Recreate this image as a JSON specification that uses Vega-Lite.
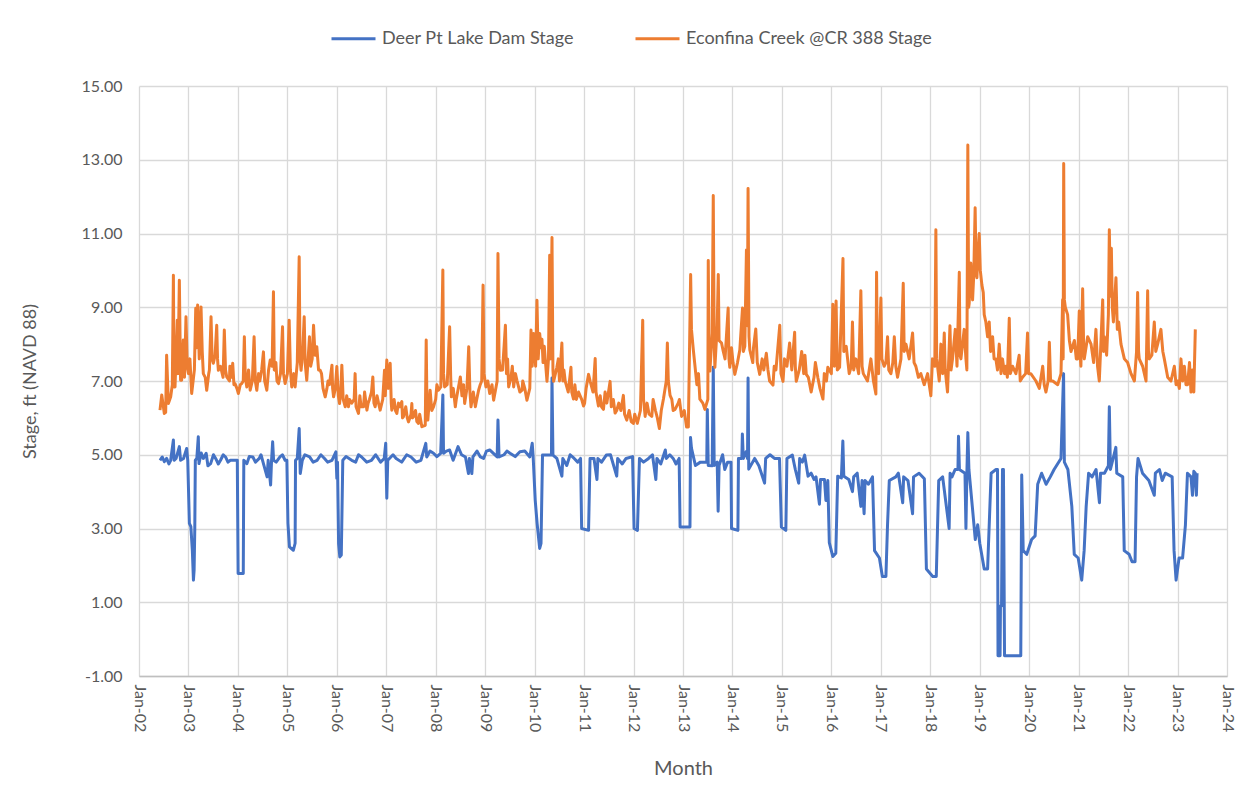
{
"$schema": "https://vega.github.io/schema/vega-lite/v6.json",
"width": 1088,
"height": 590,
"autosize": {"type": "none"},
"padding": {"left": 139, "top": 86, "right": 22, "bottom": 127},
"background": "white",
"config": {
 "font": "Lato",
 "view": {"stroke": null},
 "axis": {"labelFont": "Lato", "titleFont": "Lato", "labelColor": "#595959", "titleColor": "#595959", "labelFontSize": 16, "titleFontSize": 18, "titleFontWeight": "normal", "gridColor": "#d9d9d9", "gridWidth": 1.3, "ticks": false}
},
"datasets": {
"deer": [
{"t":"2002-06-05","v":4.85},{"t":"2002-06-22","v":4.94},{"t":"2002-07-07","v":4.81},{"t":"2002-07-24","v":4.9},{"t":"2002-08-10","v":4.75},{"t":"2002-08-23","v":4.85},{"t":"2002-09-12","v":5.4},{"t":"2002-09-17","v":4.85},{"t":"2002-10-02","v":4.9},{"t":"2002-10-26","v":5.22},{"t":"2002-11-04","v":4.85},{"t":"2002-11-26","v":4.9},{"t":"2002-12-19","v":5.17},{"t":"2002-12-27","v":4.85},
{"t":"2003-01-08","v":3.14},{"t":"2003-01-19","v":3.05},{"t":"2003-01-30","v":2.4},{"t":"2003-02-07","v":1.6},{"t":"2003-02-12","v":1.87},{"t":"2003-02-17","v":3.0},{"t":"2003-02-21","v":4.85},{"t":"2003-03-04","v":4.9},{"t":"2003-03-15","v":5.49},{"t":"2003-03-20","v":4.76},{"t":"2003-04-21","v":4.9},{"t":"2003-05-12","v":5.04},{"t":"2003-06-14","v":4.76},{"t":"2003-07-21","v":4.9},{"t":"2003-08-26","v":4.85},{"t":"2003-10-02","v":4.94},{"t":"2003-11-07","v":4.85},{"t":"2003-12-10","v":4.85},{"t":"2003-12-28","v":4.85},
{"t":"2004-01-03","v":1.78},{"t":"2004-02-10","v":1.78},{"t":"2004-02-14","v":4.85},{"t":"2004-03-08","v":4.76},{"t":"2004-04-21","v":4.94},{"t":"2004-06-07","v":4.9},{"t":"2004-07-08","v":4.76},{"t":"2004-08-04","v":4.4},{"t":"2004-08-12","v":4.85},{"t":"2004-08-30","v":4.18},{"t":"2004-09-06","v":4.85},{"t":"2004-09-14","v":5.35},{"t":"2004-09-21","v":4.85},{"t":"2004-11-07","v":4.94},{"t":"2004-12-15","v":4.85},{"t":"2004-12-28","v":4.85},
{"t":"2005-01-05","v":3.14},{"t":"2005-01-16","v":2.5},{"t":"2005-02-14","v":2.41},{"t":"2005-02-27","v":2.6},{"t":"2005-03-02","v":4.85},{"t":"2005-03-15","v":4.9},{"t":"2005-03-29","v":5.71},{"t":"2005-04-06","v":4.49},{"t":"2005-04-21","v":4.85},{"t":"2005-06-14","v":4.94},{"t":"2005-08-08","v":4.85},{"t":"2005-10-02","v":4.9},{"t":"2005-11-26","v":4.85},{"t":"2005-12-25","v":5.08},
{"t":"2006-01-01","v":4.36},{"t":"2006-01-06","v":4.8},{"t":"2006-01-14","v":2.59},{"t":"2006-01-23","v":2.23},{"t":"2006-02-03","v":2.28},{"t":"2006-02-14","v":4.85},{"t":"2006-04-21","v":4.85},{"t":"2006-07-03","v":4.94},{"t":"2006-09-14","v":4.85},{"t":"2006-12-17","v":4.9},{"t":"2006-12-28","v":5.31},
{"t":"2007-01-05","v":3.82},{"t":"2007-01-12","v":4.85},{"t":"2007-03-15","v":4.9},{"t":"2007-07-03","v":4.94},{"t":"2007-09-14","v":4.85},{"t":"2007-10-20","v":5.31},{"t":"2007-10-27","v":4.94},{"t":"2007-12-16","v":5.04},
{"t":"2008-02-07","v":5.04},{"t":"2008-02-23","v":6.62},{"t":"2008-02-28","v":5.04},{"t":"2008-04-13","v":5.13},{"t":"2008-05-09","v":4.85},{"t":"2008-06-14","v":5.22},{"t":"2008-08-08","v":4.94},{"t":"2008-08-30","v":4.49},{"t":"2008-09-06","v":4.9},{"t":"2008-09-24","v":4.49},{"t":"2008-10-02","v":4.94},{"t":"2008-11-26","v":4.94},
{"t":"2009-02-03","v":5.13},{"t":"2009-04-05","v":5.94},{"t":"2009-04-13","v":4.94},{"t":"2009-07-03","v":5.04},{"t":"2009-09-14","v":5.08},{"t":"2009-11-26","v":4.94},{"t":"2009-12-14","v":5.31},{"t":"2009-12-21","v":4.94},
{"t":"2010-01-05","v":3.77},{"t":"2010-01-19","v":3.14},{"t":"2010-02-07","v":2.46},{"t":"2010-02-17","v":2.6},{"t":"2010-02-28","v":4.99},{"t":"2010-04-02","v":4.99},{"t":"2010-05-05","v":4.99},{"t":"2010-05-09","v":7.08},{"t":"2010-05-16","v":4.99},{"t":"2010-06-14","v":4.9},{"t":"2010-07-21","v":4.42},{"t":"2010-07-28","v":4.9},{"t":"2010-08-26","v":4.71},{"t":"2010-10-20","v":4.9},{"t":"2010-12-06","v":4.9},{"t":"2010-12-14","v":3.0},
{"t":"2011-02-03","v":2.95},{"t":"2011-02-14","v":4.9},{"t":"2011-03-15","v":4.9},{"t":"2011-04-06","v":4.33},{"t":"2011-04-13","v":4.9},{"t":"2011-06-14","v":4.99},{"t":"2011-08-30","v":4.42},{"t":"2011-09-06","v":4.9},{"t":"2011-11-07","v":4.9},{"t":"2011-12-25","v":4.95},
{"t":"2012-01-05","v":3.0},{"t":"2012-01-30","v":2.95},{"t":"2012-02-14","v":4.9},{"t":"2012-04-21","v":4.9},{"t":"2012-06-14","v":4.33},{"t":"2012-06-22","v":4.9},{"t":"2012-08-23","v":5.13},{"t":"2012-08-30","v":4.9},{"t":"2012-10-20","v":4.9},{"t":"2012-12-03","v":4.9},{"t":"2012-12-10","v":3.04},
{"t":"2013-02-21","v":3.04},{"t":"2013-02-25","v":5.47},{"t":"2013-03-04","v":5.18},{"t":"2013-04-02","v":4.71},{"t":"2013-05-09","v":4.8},{"t":"2013-06-25","v":4.8},{"t":"2013-06-29","v":6.23},{"t":"2013-07-06","v":4.71},{"t":"2013-08-04","v":4.7},{"t":"2013-08-12","v":7.37},{"t":"2013-08-19","v":4.71},{"t":"2013-09-10","v":4.8},{"t":"2013-09-17","v":3.47},{"t":"2013-09-24","v":4.71},{"t":"2013-11-26","v":4.8},{"t":"2013-12-21","v":4.8},{"t":"2013-12-25","v":3.0},
{"t":"2014-02-10","v":2.95},{"t":"2014-02-14","v":4.9},{"t":"2014-03-11","v":4.9},{"t":"2014-03-15","v":5.56},{"t":"2014-03-22","v":4.9},{"t":"2014-04-13","v":5.09},{"t":"2014-04-22","v":4.9},{"t":"2014-04-26","v":7.08},{"t":"2014-05-01","v":4.61},{"t":"2014-06-14","v":4.9},{"t":"2014-08-26","v":4.23},{"t":"2014-09-03","v":4.9},{"t":"2014-11-07","v":4.9},{"t":"2014-12-14","v":4.9},{"t":"2014-12-28","v":3.04},
{"t":"2015-01-30","v":2.95},{"t":"2015-02-07","v":4.9},{"t":"2015-03-19","v":4.99},{"t":"2015-05-05","v":4.23},{"t":"2015-05-12","v":4.9},{"t":"2015-06-18","v":4.99},{"t":"2015-07-13","v":4.42},{"t":"2015-08-26","v":4.33},{"t":"2015-10-05","v":3.66},{"t":"2015-10-13","v":4.33},{"t":"2015-11-11","v":4.33},{"t":"2015-11-22","v":3.76},{"t":"2015-12-06","v":4.3},{"t":"2015-12-17","v":2.62},
{"t":"2016-01-12","v":2.24},{"t":"2016-02-03","v":2.33},{"t":"2016-02-17","v":4.42},{"t":"2016-03-15","v":4.37},{"t":"2016-03-26","v":5.37},{"t":"2016-04-02","v":4.42},{"t":"2016-05-09","v":4.33},{"t":"2016-06-05","v":4.0},{"t":"2016-06-14","v":4.4},{"t":"2016-08-06","v":3.6},{"t":"2016-08-15","v":4.3},{"t":"2016-08-30","v":3.4},{"t":"2016-09-06","v":4.3},{"t":"2016-10-31","v":4.4},{"t":"2016-11-15","v":2.4},{"t":"2016-12-21","v":2.2},
{"t":"2017-01-12","v":1.7},{"t":"2017-02-07","v":1.7},{"t":"2017-02-19","v":3.1},{"t":"2017-03-04","v":4.3},{"t":"2017-04-21","v":4.4},{"t":"2017-06-11","v":3.7},{"t":"2017-06-18","v":4.4},{"t":"2017-08-23","v":3.4},{"t":"2017-08-30","v":4.4},{"t":"2017-11-18","v":4.35},{"t":"2017-12-03","v":1.9},
{"t":"2018-01-19","v":1.7},{"t":"2018-02-14","v":1.7},{"t":"2018-03-04","v":4.3},{"t":"2018-04-02","v":4.4},{"t":"2018-05-20","v":3.0},{"t":"2018-05-27","v":4.5},{"t":"2018-07-03","v":4.6},{"t":"2018-07-24","v":4.6},{"t":"2018-07-28","v":5.5},{"t":"2018-08-04","v":4.6},{"t":"2018-09-14","v":4.5},{"t":"2018-09-21","v":3.0},{"t":"2018-09-28","v":4.5},{"t":"2018-10-05","v":5.6},{"t":"2018-10-13","v":4.6},{"t":"2018-11-07","v":3.6},{"t":"2018-11-29","v":2.7},{"t":"2018-12-17","v":3.1},
{"t":"2019-01-01","v":2.6},{"t":"2019-02-03","v":1.9},{"t":"2019-02-28","v":1.9},{"t":"2019-03-26","v":4.5},{"t":"2019-05-01","v":4.6},{"t":"2019-05-12","v":4.6},{"t":"2019-05-16","v":-0.45},{"t":"2019-05-31","v":-0.45},{"t":"2019-06-03","v":0.9},{"t":"2019-06-11","v":0.9},{"t":"2019-06-18","v":4.6},{"t":"2019-06-25","v":4.6},{"t":"2019-07-03","v":-0.45},{"t":"2019-10-31","v":-0.45},{"t":"2019-11-07","v":4.45},{"t":"2019-11-18","v":2.4},{"t":"2019-12-14","v":2.3},
{"t":"2020-01-19","v":2.7},{"t":"2020-02-14","v":2.8},{"t":"2020-03-04","v":4.2},{"t":"2020-04-02","v":4.5},{"t":"2020-05-05","v":4.2},{"t":"2020-07-03","v":4.6},{"t":"2020-08-23","v":4.9},{"t":"2020-09-11","v":7.2},{"t":"2020-09-17","v":4.8},{"t":"2020-10-13","v":4.6},{"t":"2020-11-11","v":3.6},{"t":"2020-11-29","v":2.3},{"t":"2020-12-28","v":2.2},
{"t":"2021-01-23","v":1.6},{"t":"2021-02-10","v":2.4},{"t":"2021-02-25","v":3.6},{"t":"2021-03-15","v":4.5},{"t":"2021-05-09","v":4.6},{"t":"2021-06-03","v":3.7},{"t":"2021-06-11","v":4.5},{"t":"2021-08-08","v":4.7},{"t":"2021-08-15","v":6.3},{"t":"2021-08-23","v":4.6},{"t":"2021-10-02","v":5.2},{"t":"2021-10-09","v":4.5},{"t":"2021-11-22","v":4.4},{"t":"2021-12-03","v":2.4},
{"t":"2022-01-08","v":2.3},{"t":"2022-01-30","v":2.1},{"t":"2022-02-21","v":2.1},{"t":"2022-03-04","v":4.4},{"t":"2022-03-15","v":4.9},{"t":"2022-04-17","v":4.5},{"t":"2022-06-03","v":4.3},{"t":"2022-07-13","v":3.9},{"t":"2022-07-21","v":4.5},{"t":"2022-10-02","v":4.5},{"t":"2022-11-22","v":4.4},{"t":"2022-12-06","v":2.4},{"t":"2022-12-21","v":1.6},
{"t":"2023-01-12","v":2.2},{"t":"2023-02-07","v":2.2},{"t":"2023-02-28","v":3.1},{"t":"2023-03-15","v":4.5},{"t":"2023-04-10","v":4.4},{"t":"2023-04-21","v":3.9},{"t":"2023-05-01","v":4.55},{"t":"2023-05-12","v":4.5},{"t":"2023-05-20","v":3.9},{"t":"2023-05-25","v":4.5},
{"t":"2003-04-05","v":5.05},{"t":"2003-05-25","v":4.7},{"t":"2003-07-05","v":5.0},{"t":"2003-08-10","v":4.75},{"t":"2003-09-15","v":5.0},{"t":"2003-10-20","v":4.8},
{"t":"2004-03-25","v":4.95},{"t":"2004-05-10","v":4.8},{"t":"2004-06-20","v":5.0},{"t":"2004-10-10","v":4.8},{"t":"2004-11-25","v":5.0},
{"t":"2005-05-10","v":5.0},{"t":"2005-07-10","v":4.8},{"t":"2005-09-05","v":5.0},{"t":"2005-10-25","v":4.8},
{"t":"2006-03-10","v":4.95},{"t":"2006-05-20","v":4.8},{"t":"2006-06-10","v":5.0},{"t":"2006-08-10","v":4.8},{"t":"2006-10-15","v":5.0},{"t":"2006-11-20","v":4.8},
{"t":"2007-02-20","v":5.0},{"t":"2007-04-25","v":4.8},{"t":"2007-06-01","v":5.0},{"t":"2007-08-10","v":4.8},{"t":"2007-11-20","v":5.1},
{"t":"2008-01-10","v":4.95},{"t":"2008-03-20","v":5.1},{"t":"2008-07-10","v":5.0},{"t":"2008-11-01","v":5.1},{"t":"2008-12-20","v":4.9},
{"t":"2009-01-10","v":5.1},{"t":"2009-03-30","v":4.94},{"t":"2009-05-20","v":5.0},{"t":"2009-06-10","v":5.1},{"t":"2009-08-10","v":4.95},{"t":"2009-10-20","v":5.1},
{"t":"2010-09-20","v":5.0},{"t":"2010-11-15","v":4.8},
{"t":"2011-05-10","v":4.8},{"t":"2011-07-15","v":5.0},{"t":"2011-10-10","v":4.75},
{"t":"2012-03-15","v":4.8},{"t":"2012-05-20","v":5.0},{"t":"2012-07-20","v":4.75},{"t":"2012-09-25","v":5.0},{"t":"2012-11-10","v":4.75},
{"t":"2013-10-20","v":5.0},{"t":"2013-11-05","v":4.6},
{"t":"2014-07-15","v":4.7},{"t":"2014-10-05","v":5.0},
{"t":"2015-04-10","v":4.6},{"t":"2015-06-01","v":4.8},{"t":"2015-08-05","v":4.5},{"t":"2015-09-10","v":4.4},
{"t":"2016-07-10","v":4.5},{"t":"2016-10-01","v":4.2},{"t":"2017-05-10","v":4.5},{"t":"2017-07-20","v":4.3},{"t":"2017-10-10","v":4.5},{"t":"2018-06-10","v":4.4},{"t":"2020-06-05","v":4.4},{"t":"2021-04-10","v":4.4},{"t":"2021-07-10","v":4.5},{"t":"2022-08-20","v":4.6},{"t":"2022-09-10","v":4.3}
],
"econ": [
{"t":"2002-06-05","v":6.21},{"t":"2002-06-18","v":6.62},{"t":"2002-07-07","v":6.12},{"t":"2002-07-17","v":6.15},{"t":"2002-07-24","v":7.7},{"t":"2002-08-06","v":6.39},{"t":"2002-08-23","v":6.57},{"t":"2002-09-04","v":6.9},{"t":"2002-09-12","v":9.87},{"t":"2002-09-17","v":6.84},{"t":"2002-09-24","v":6.84},{"t":"2002-10-11","v":8.65},{"t":"2002-10-16","v":7.2},{"t":"2002-10-26","v":9.73},{"t":"2002-11-04","v":7.02},{"t":"2002-11-12","v":7.02},{"t":"2002-11-24","v":8.11},{"t":"2002-12-03","v":7.1},{"t":"2002-12-14","v":8.74},{"t":"2002-12-23","v":7.4},
{"t":"2003-01-01","v":7.2},{"t":"2003-01-12","v":7.6},{"t":"2003-01-25","v":6.66},{"t":"2003-02-14","v":7.3},{"t":"2003-02-24","v":8.97},{"t":"2003-03-04","v":7.9},{"t":"2003-03-10","v":9.06},{"t":"2003-03-22","v":7.6},{"t":"2003-04-04","v":9.01},{"t":"2003-04-13","v":7.8},{"t":"2003-04-21","v":7.2},{"t":"2003-05-05","v":7.1},{"t":"2003-05-16","v":6.75},{"t":"2003-05-31","v":7.2},{"t":"2003-06-17","v":8.74},{"t":"2003-06-25","v":7.6},{"t":"2003-07-04","v":7.48},{"t":"2003-07-17","v":7.7},{"t":"2003-07-29","v":8.51},{"t":"2003-08-04","v":7.6},{"t":"2003-08-10","v":7.29},{"t":"2003-08-26","v":7.4},{"t":"2003-09-14","v":7.1},{"t":"2003-09-23","v":8.38},{"t":"2003-10-02","v":7.3},{"t":"2003-10-11","v":7.11},{"t":"2003-10-31","v":7.0},{"t":"2003-11-15","v":7.1},{"t":"2003-11-24","v":7.48},{"t":"2003-12-03","v":6.9},{"t":"2003-12-11","v":6.93},{"t":"2003-12-25","v":6.8},
{"t":"2004-01-05","v":6.66},{"t":"2004-01-19","v":6.9},{"t":"2004-01-29","v":6.93},{"t":"2004-02-10","v":7.0},{"t":"2004-02-18","v":8.2},{"t":"2004-02-25","v":7.1},{"t":"2004-03-07","v":6.84},{"t":"2004-04-01","v":6.75},{"t":"2004-04-17","v":7.0},{"t":"2004-04-30","v":8.2},{"t":"2004-05-09","v":7.0},{"t":"2004-05-20","v":6.75},{"t":"2004-06-11","v":7.0},{"t":"2004-06-25","v":7.3},{"t":"2004-07-08","v":7.79},{"t":"2004-07-17","v":7.0},{"t":"2004-08-02","v":6.75},{"t":"2004-08-15","v":7.3},{"t":"2004-08-27","v":7.57},{"t":"2004-09-10","v":7.4},{"t":"2004-09-20","v":9.42},{"t":"2004-09-26","v":7.3},{"t":"2004-10-02","v":7.29},{"t":"2004-10-16","v":7.0},{"t":"2004-10-27","v":6.93},{"t":"2004-11-11","v":7.2},{"t":"2004-11-26","v":8.47},{"t":"2004-12-03","v":7.2},{"t":"2004-12-15","v":6.93},
{"t":"2005-01-01","v":7.2},{"t":"2005-01-14","v":8.65},{"t":"2005-01-23","v":7.3},{"t":"2005-02-02","v":6.84},{"t":"2005-02-17","v":7.2},{"t":"2005-02-27","v":6.84},{"t":"2005-03-15","v":7.5},{"t":"2005-03-29","v":10.37},{"t":"2005-04-04","v":7.6},{"t":"2005-04-12","v":7.29},{"t":"2005-04-24","v":7.8},{"t":"2005-05-05","v":8.74},{"t":"2005-05-12","v":7.5},{"t":"2005-05-24","v":7.02},{"t":"2005-06-03","v":7.6},{"t":"2005-06-13","v":8.2},{"t":"2005-06-22","v":7.4},{"t":"2005-07-03","v":7.6},{"t":"2005-07-13","v":8.51},{"t":"2005-07-24","v":7.7},{"t":"2005-08-06","v":7.93},{"t":"2005-08-19","v":7.3},{"t":"2005-08-31","v":7.29},{"t":"2005-09-21","v":6.8},{"t":"2005-10-07","v":6.57},{"t":"2005-10-20","v":6.8},{"t":"2005-11-07","v":6.9},{"t":"2005-11-26","v":7.43},{"t":"2005-12-01","v":6.8},{"t":"2005-12-08","v":6.57},{"t":"2005-12-21","v":6.8},
{"t":"2006-01-01","v":7.39},{"t":"2006-01-12","v":6.6},{"t":"2006-01-21","v":6.39},{"t":"2006-01-30","v":6.7},{"t":"2006-02-07","v":7.43},{"t":"2006-02-17","v":6.5},{"t":"2006-03-04","v":6.3},{"t":"2006-03-28","v":6.3},{"t":"2006-04-21","v":6.4},{"t":"2006-05-09","v":6.5},{"t":"2006-05-16","v":7.2},{"t":"2006-05-23","v":6.3},{"t":"2006-06-10","v":6.12},{"t":"2006-06-29","v":6.3},{"t":"2006-07-17","v":6.3},{"t":"2006-08-11","v":6.21},{"t":"2006-08-30","v":6.5},{"t":"2006-09-14","v":6.7},{"t":"2006-09-24","v":7.11},{"t":"2006-10-02","v":6.4},{"t":"2006-10-11","v":6.3},{"t":"2006-11-17","v":6.21},{"t":"2006-12-06","v":6.5},{"t":"2006-12-19","v":7.29},{"t":"2006-12-25","v":6.6},
{"t":"2007-01-05","v":7.57},{"t":"2007-01-16","v":6.8},{"t":"2007-01-30","v":7.48},{"t":"2007-02-07","v":6.4},{"t":"2007-02-11","v":6.21},{"t":"2007-03-20","v":6.12},{"t":"2007-04-10","v":6.3},{"t":"2007-04-26","v":6.44},{"t":"2007-05-01","v":6.0},{"t":"2007-05-08","v":6.03},{"t":"2007-06-14","v":5.89},{"t":"2007-07-03","v":6.1},{"t":"2007-07-09","v":6.39},{"t":"2007-07-13","v":6.0},{"t":"2007-07-21","v":6.03},{"t":"2007-08-27","v":5.85},{"t":"2007-09-21","v":5.76},{"t":"2007-10-16","v":5.8},{"t":"2007-10-23","v":8.11},{"t":"2007-10-29","v":6.2},{"t":"2007-11-04","v":5.94},{"t":"2007-11-21","v":6.75},{"t":"2007-12-03","v":6.2},{"t":"2007-12-16","v":6.3},
{"t":"2008-01-01","v":6.5},{"t":"2008-01-22","v":6.75},{"t":"2008-02-08","v":6.84},{"t":"2008-02-23","v":10.01},{"t":"2008-02-28","v":7.2},{"t":"2008-03-07","v":6.84},{"t":"2008-03-26","v":6.9},{"t":"2008-04-13","v":8.47},{"t":"2008-04-21","v":7.1},{"t":"2008-04-26","v":6.57},{"t":"2008-05-25","v":6.3},{"t":"2008-06-11","v":6.7},{"t":"2008-07-01","v":7.11},{"t":"2008-07-13","v":6.6},{"t":"2008-08-02","v":6.39},{"t":"2008-08-19","v":6.8},{"t":"2008-09-01","v":7.93},{"t":"2008-09-10","v":6.7},{"t":"2008-09-18","v":6.3},{"t":"2008-10-20","v":6.3},{"t":"2008-11-13","v":6.75},{"t":"2008-12-06","v":7.0},{"t":"2008-12-16","v":9.6},{"t":"2008-12-23","v":7.2},
{"t":"2009-01-06","v":6.84},{"t":"2009-02-03","v":6.66},{"t":"2009-03-04","v":6.48},{"t":"2009-03-30","v":7.0},{"t":"2009-04-05","v":10.46},{"t":"2009-04-13","v":7.6},{"t":"2009-04-23","v":7.29},{"t":"2009-05-09","v":7.3},{"t":"2009-05-30","v":8.51},{"t":"2009-06-07","v":7.2},{"t":"2009-06-23","v":6.84},{"t":"2009-07-10","v":7.1},{"t":"2009-07-30","v":6.84},{"t":"2009-08-12","v":7.2},{"t":"2009-08-23","v":7.02},{"t":"2009-09-14","v":6.7},{"t":"2009-09-30","v":6.75},{"t":"2009-10-20","v":6.8},{"t":"2009-11-05","v":6.48},{"t":"2009-11-26","v":6.8},{"t":"2009-12-05","v":8.38},{"t":"2009-12-14","v":7.4},{"t":"2009-12-25","v":8.29},
{"t":"2010-01-08","v":7.4},{"t":"2010-01-18","v":9.19},{"t":"2010-01-27","v":7.6},{"t":"2010-02-07","v":8.29},{"t":"2010-02-17","v":7.9},{"t":"2010-02-24","v":8.13},{"t":"2010-03-04","v":7.5},{"t":"2010-03-13","v":7.94},{"t":"2010-04-02","v":6.99},{"t":"2010-04-13","v":7.6},{"t":"2010-04-22","v":10.41},{"t":"2010-04-28","v":7.6},{"t":"2010-05-09","v":10.89},{"t":"2010-05-16","v":7.3},{"t":"2010-05-21","v":6.99},{"t":"2010-06-14","v":7.37},{"t":"2010-07-03","v":7.0},{"t":"2010-07-21","v":8.03},{"t":"2010-07-28","v":7.0},{"t":"2010-08-15","v":6.99},{"t":"2010-09-06","v":6.7},{"t":"2010-09-26","v":7.37},{"t":"2010-10-02","v":6.7},{"t":"2010-10-15","v":6.51},{"t":"2010-11-21","v":6.7},{"t":"2010-12-14","v":6.5},{"t":"2010-12-28","v":6.32},
{"t":"2011-01-16","v":6.8},{"t":"2011-02-03","v":7.18},{"t":"2011-02-15","v":6.99},{"t":"2011-03-08","v":6.7},{"t":"2011-03-24","v":7.61},{"t":"2011-03-30","v":6.7},{"t":"2011-04-17","v":6.32},{"t":"2011-05-24","v":6.23},{"t":"2011-06-18","v":6.4},{"t":"2011-07-12","v":6.99},{"t":"2011-07-21","v":6.3},{"t":"2011-08-18","v":6.13},{"t":"2011-09-14","v":6.4},{"t":"2011-10-18","v":6.61},{"t":"2011-10-27","v":6.1},{"t":"2011-11-12","v":5.94},{"t":"2011-12-31","v":5.85},
{"t":"2012-01-29","v":5.85},{"t":"2012-02-21","v":6.2},{"t":"2012-03-09","v":8.65},{"t":"2012-03-15","v":6.5},{"t":"2012-03-27","v":6.04},{"t":"2012-05-15","v":6.04},{"t":"2012-06-11","v":6.2},{"t":"2012-07-10","v":5.71},{"t":"2012-07-24","v":6.2},{"t":"2012-08-09","v":6.51},{"t":"2012-08-30","v":7.0},{"t":"2012-09-07","v":8.03},{"t":"2012-09-14","v":7.0},{"t":"2012-09-27","v":6.61},{"t":"2012-11-03","v":6.23},{"t":"2012-11-26","v":6.4},{"t":"2012-12-21","v":6.04},
{"t":"2013-01-27","v":5.75},{"t":"2013-02-09","v":5.75},{"t":"2013-02-26","v":9.89},{"t":"2013-03-04","v":8.4},{"t":"2013-03-18","v":7.84},{"t":"2013-04-13","v":6.9},{"t":"2013-05-05","v":6.51},{"t":"2013-05-27","v":6.4},{"t":"2013-06-11","v":6.23},{"t":"2013-07-03","v":6.5},{"t":"2013-07-06","v":10.27},{"t":"2013-07-12","v":7.5},{"t":"2013-07-18","v":7.27},{"t":"2013-08-04","v":8.3},{"t":"2013-08-12","v":12.03},{"t":"2013-08-19","v":8.0},{"t":"2013-08-24","v":7.37},{"t":"2013-09-10","v":8.5},{"t":"2013-09-18","v":9.89},{"t":"2013-09-24","v":8.1},{"t":"2013-10-12","v":8.03},{"t":"2013-11-07","v":7.6},{"t":"2013-11-30","v":8.98},{"t":"2013-12-06","v":7.6},{"t":"2013-12-12","v":7.37},
{"t":"2014-01-18","v":7.18},{"t":"2014-02-07","v":7.5},{"t":"2014-02-24","v":7.84},{"t":"2014-03-16","v":8.98},{"t":"2014-03-22","v":7.8},{"t":"2014-04-02","v":7.94},{"t":"2014-04-14","v":10.55},{"t":"2014-04-21","v":8.5},{"t":"2014-04-26","v":12.22},{"t":"2014-05-03","v":8.2},{"t":"2014-05-09","v":7.84},{"t":"2014-05-31","v":7.5},{"t":"2014-06-22","v":8.41},{"t":"2014-07-03","v":7.5},{"t":"2014-07-21","v":7.18},{"t":"2014-08-08","v":7.6},{"t":"2014-09-08","v":7.75},{"t":"2014-10-02","v":7.0},{"t":"2014-10-27","v":6.89},{"t":"2014-11-18","v":7.3},{"t":"2014-12-16","v":8.51},{"t":"2014-12-25","v":7.2},
{"t":"2015-01-09","v":6.99},{"t":"2015-02-07","v":7.4},{"t":"2015-02-27","v":8.03},{"t":"2015-03-15","v":7.3},{"t":"2015-04-05","v":8.32},{"t":"2015-04-10","v":7.4},{"t":"2015-04-17","v":6.99},{"t":"2015-05-09","v":7.3},{"t":"2015-05-27","v":7.8},{"t":"2015-06-11","v":7.2},{"t":"2015-06-30","v":7.18},{"t":"2015-08-05","v":6.7},{"t":"2015-08-26","v":7.1},{"t":"2015-09-24","v":7.08},{"t":"2015-10-09","v":6.8},{"t":"2015-10-31","v":6.51},{"t":"2015-11-26","v":7.0},{"t":"2015-12-06","v":7.37},
{"t":"2016-01-01","v":7.2},{"t":"2016-01-12","v":9.08},{"t":"2016-01-23","v":7.4},{"t":"2016-02-05","v":9.17},{"t":"2016-02-14","v":7.3},{"t":"2016-03-02","v":7.37},{"t":"2016-03-27","v":10.32},{"t":"2016-04-02","v":7.8},{"t":"2016-04-20","v":7.94},{"t":"2016-05-12","v":7.2},{"t":"2016-05-27","v":7.4},{"t":"2016-06-05","v":8.6},{"t":"2016-06-14","v":7.3},{"t":"2016-06-30","v":7.6},{"t":"2016-07-21","v":7.2},{"t":"2016-08-06","v":9.45},{"t":"2016-08-15","v":7.4},{"t":"2016-08-24","v":7.2},{"t":"2016-09-24","v":7.0},{"t":"2016-10-19","v":7.6},{"t":"2016-11-07","v":7.0},{"t":"2016-11-25","v":6.65},{"t":"2016-11-30","v":9.95},{"t":"2016-12-06","v":7.4},{"t":"2016-12-15","v":7.2},
{"t":"2017-01-01","v":9.25},{"t":"2017-01-08","v":7.6},{"t":"2017-01-25","v":7.4},{"t":"2017-02-07","v":7.5},{"t":"2017-02-19","v":8.2},{"t":"2017-02-28","v":7.3},{"t":"2017-03-16","v":7.2},{"t":"2017-03-30","v":7.5},{"t":"2017-04-10","v":8.2},{"t":"2017-04-21","v":7.4},{"t":"2017-05-04","v":7.1},{"t":"2017-05-29","v":7.6},{"t":"2017-06-15","v":9.65},{"t":"2017-06-22","v":7.8},{"t":"2017-07-05","v":8.0},{"t":"2017-07-29","v":7.6},{"t":"2017-08-23","v":8.3},{"t":"2017-09-03","v":7.5},{"t":"2017-09-16","v":7.4},{"t":"2017-10-05","v":7.1},{"t":"2017-10-23","v":7.2},{"t":"2017-11-17","v":6.9},{"t":"2017-12-12","v":7.2},
{"t":"2018-01-05","v":6.6},{"t":"2018-01-17","v":7.6},{"t":"2018-02-03","v":7.4},{"t":"2018-02-11","v":11.1},{"t":"2018-02-17","v":7.6},{"t":"2018-03-08","v":7.0},{"t":"2018-03-20","v":8.0},{"t":"2018-04-02","v":7.2},{"t":"2018-04-14","v":8.3},{"t":"2018-04-21","v":7.3},{"t":"2018-05-08","v":6.7},{"t":"2018-05-26","v":8.5},{"t":"2018-06-03","v":7.3},{"t":"2018-06-14","v":7.6},{"t":"2018-07-04","v":8.4},{"t":"2018-07-17","v":7.4},{"t":"2018-08-03","v":9.95},{"t":"2018-08-08","v":7.7},{"t":"2018-08-15","v":7.6},{"t":"2018-09-08","v":8.4},{"t":"2018-09-21","v":7.6},{"t":"2018-09-28","v":7.3},{"t":"2018-10-05","v":13.4},{"t":"2018-10-11","v":9.0},{"t":"2018-10-15","v":9.1},{"t":"2018-10-27","v":10.2},{"t":"2018-11-09","v":9.2},{"t":"2018-11-18","v":9.9},{"t":"2018-11-28","v":11.7},{"t":"2018-12-05","v":10.0},{"t":"2018-12-11","v":9.8},{"t":"2018-12-17","v":10.3},{"t":"2018-12-28","v":11.0},
{"t":"2019-01-05","v":10.0},{"t":"2019-01-17","v":9.6},{"t":"2019-01-27","v":9.4},{"t":"2019-02-03","v":8.8},{"t":"2019-02-15","v":8.6},{"t":"2019-02-28","v":8.2},{"t":"2019-03-12","v":8.6},{"t":"2019-03-22","v":7.8},{"t":"2019-04-06","v":8.2},{"t":"2019-04-17","v":7.6},{"t":"2019-04-30","v":7.6},{"t":"2019-05-12","v":7.3},{"t":"2019-05-25","v":8.0},{"t":"2019-06-07","v":7.2},{"t":"2019-06-18","v":7.6},{"t":"2019-07-03","v":7.2},{"t":"2019-07-13","v":7.4},{"t":"2019-07-24","v":7.1},{"t":"2019-08-07","v":8.7},{"t":"2019-08-15","v":7.2},{"t":"2019-08-31","v":7.4},{"t":"2019-09-25","v":7.2},{"t":"2019-10-19","v":7.7},{"t":"2019-10-27","v":7.0},{"t":"2019-11-13","v":7.1},{"t":"2019-12-06","v":7.2},{"t":"2019-12-20","v":8.3},{"t":"2019-12-28","v":7.2},
{"t":"2020-01-13","v":7.2},{"t":"2020-02-20","v":7.0},{"t":"2020-03-16","v":6.8},{"t":"2020-04-10","v":7.4},{"t":"2020-04-21","v":6.9},{"t":"2020-05-04","v":6.7},{"t":"2020-05-20","v":7.0},{"t":"2020-05-29","v":8.05},{"t":"2020-06-07","v":7.0},{"t":"2020-06-23","v":7.0},{"t":"2020-07-30","v":6.9},{"t":"2020-08-23","v":7.2},{"t":"2020-09-04","v":9.2},{"t":"2020-09-08","v":7.6},{"t":"2020-09-12","v":12.9},{"t":"2020-09-17","v":9.2},{"t":"2020-09-24","v":9.0},{"t":"2020-10-11","v":8.8},{"t":"2020-10-24","v":8.1},{"t":"2020-11-05","v":7.8},{"t":"2020-11-30","v":8.1},{"t":"2020-12-14","v":7.6},{"t":"2020-12-24","v":7.6},
{"t":"2021-01-05","v":8.9},{"t":"2021-01-12","v":7.7},{"t":"2021-01-17","v":7.4},{"t":"2021-01-30","v":9.5},{"t":"2021-02-07","v":7.8},{"t":"2021-02-11","v":7.6},{"t":"2021-03-08","v":8.2},{"t":"2021-04-02","v":8.0},{"t":"2021-04-21","v":7.5},{"t":"2021-05-08","v":8.4},{"t":"2021-05-20","v":7.4},{"t":"2021-06-02","v":7.0},{"t":"2021-06-27","v":9.2},{"t":"2021-07-03","v":7.8},{"t":"2021-07-09","v":8.2},{"t":"2021-07-26","v":7.7},{"t":"2021-08-08","v":8.8},{"t":"2021-08-15","v":11.1},{"t":"2021-08-23","v":9.3},{"t":"2021-08-30","v":10.6},{"t":"2021-09-06","v":9.0},{"t":"2021-09-14","v":8.6},{"t":"2021-10-03","v":9.8},{"t":"2021-10-13","v":8.4},{"t":"2021-10-23","v":8.6},{"t":"2021-11-09","v":8.0},{"t":"2021-12-04","v":7.6},{"t":"2021-12-28","v":7.5},
{"t":"2022-01-22","v":7.2},{"t":"2022-02-16","v":7.0},{"t":"2022-03-04","v":7.8},{"t":"2022-03-12","v":9.4},{"t":"2022-03-19","v":7.8},{"t":"2022-03-24","v":7.6},{"t":"2022-04-18","v":7.4},{"t":"2022-05-13","v":7.0},{"t":"2022-05-25","v":9.45},{"t":"2022-05-31","v":7.8},{"t":"2022-06-06","v":7.6},{"t":"2022-06-25","v":7.7},{"t":"2022-07-13","v":8.6},{"t":"2022-07-24","v":7.8},{"t":"2022-08-07","v":8.0},{"t":"2022-08-31","v":8.4},{"t":"2022-09-14","v":7.8},{"t":"2022-09-25","v":7.6},{"t":"2022-10-20","v":7.1},{"t":"2022-11-13","v":7.0},{"t":"2022-12-08","v":7.4},{"t":"2022-12-21","v":6.9},
{"t":"2023-01-01","v":7.0},{"t":"2023-01-14","v":6.8},{"t":"2023-01-26","v":7.6},{"t":"2023-02-07","v":7.0},{"t":"2023-02-20","v":7.4},{"t":"2023-03-04","v":6.9},{"t":"2023-03-16","v":6.9},{"t":"2023-03-30","v":7.5},{"t":"2023-04-10","v":6.7},{"t":"2023-04-21","v":7.3},{"t":"2023-05-01","v":6.7},{"t":"2023-05-12","v":8.4},
{"t":"2003-06-05","v":7.3},{"t":"2003-11-03","v":7.4},
{"t":"2004-03-20","v":7.3},{"t":"2004-06-02","v":7.2},{"t":"2004-10-08","v":7.5},
{"t":"2005-09-10","v":7.2},{"t":"2005-10-28","v":7.0},
{"t":"2006-03-15","v":6.6},{"t":"2006-04-05","v":6.5},{"t":"2006-06-20","v":6.6},{"t":"2006-07-25","v":6.7},{"t":"2006-08-20","v":6.4},{"t":"2006-10-25","v":6.6},{"t":"2006-11-05","v":6.4},
{"t":"2007-02-28","v":6.5},{"t":"2007-03-10","v":6.2},{"t":"2007-04-01","v":6.4},{"t":"2007-05-25","v":6.3},{"t":"2007-06-05","v":6.0},{"t":"2007-08-05","v":6.2},{"t":"2007-08-15","v":5.9},{"t":"2007-09-05","v":6.1},
{"t":"2008-01-10","v":6.9},{"t":"2008-05-10","v":6.8},{"t":"2008-06-01","v":6.5},{"t":"2008-07-25","v":6.9},{"t":"2008-10-05","v":6.7},{"t":"2008-10-30","v":6.5},{"t":"2008-11-25","v":6.9},
{"t":"2009-01-20","v":7.0},{"t":"2009-02-20","v":6.9},{"t":"2009-06-15","v":7.6},{"t":"2009-07-20","v":7.4},{"t":"2009-10-05","v":7.0},
{"t":"2010-06-25","v":7.6},{"t":"2010-08-05","v":7.3},{"t":"2010-10-25","v":6.9},{"t":"2010-11-05","v":6.5},
{"t":"2011-01-05","v":6.4},{"t":"2011-04-30","v":6.6},{"t":"2011-05-10","v":6.3},{"t":"2011-06-05","v":6.7},{"t":"2011-08-05","v":6.5},{"t":"2011-08-30","v":6.2},{"t":"2011-09-30","v":6.2},{"t":"2011-11-30","v":6.2},{"t":"2011-12-15","v":5.9},
{"t":"2012-01-10","v":6.1},{"t":"2012-04-10","v":6.4},{"t":"2012-04-25","v":6.1},{"t":"2012-05-25","v":6.5},{"t":"2012-06-25","v":6.0},{"t":"2012-10-10","v":6.5},{"t":"2012-10-20","v":6.2},{"t":"2012-12-05","v":6.5},
{"t":"2013-01-10","v":6.2},{"t":"2013-04-25","v":7.2},{"t":"2013-10-25","v":7.8},{"t":"2013-12-25","v":7.9},{"t":"2014-01-05","v":7.5},
{"t":"2014-06-05","v":7.9},{"t":"2014-08-20","v":7.3},{"t":"2014-09-20","v":7.3},{"t":"2014-11-05","v":7.4},
{"t":"2015-01-20","v":7.6},{"t":"2015-03-25","v":7.8},{"t":"2015-06-20","v":7.7},{"t":"2015-07-15","v":7.1},{"t":"2015-09-05","v":7.5},{"t":"2015-11-10","v":7.2}
]
},
"encoding": {
 "x": {"field": "t", "type": "temporal",
  "scale": {"type": "utc", "domain": [{"year": 2002, "month": 1, "date": 1, "utc": true}, {"year": 2024, "month": 1, "date": 1, "utc": true}]},
  "axis": {"title": "Month", "titleFontSize": 20, "labelExpr": "utcFormat(datum.value, '%b-%y')", "labelAngle": 90, "tickCount": {"interval": "year", "step": 1}, "labelPadding": 8, "titlePadding": 27, "domainColor": "#bfbfbf", "domainWidth": 1.3, "labelFlush": false, "labelOverlap": false}},
 "y": {"field": "v", "type": "quantitative",
  "scale": {"domain": [-1, 15], "nice": false, "zero": false},
  "axis": {"title": "Stage, ft (NAVD 88)", "values": [-1, 1, 3, 5, 7, 9, 11, 13, 15], "format": ".2f", "labelExpr": "replace(datum.label, '\u2212', '-')", "labelPadding": 17, "titlePadding": 42, "domain": false}}
},
"layer": [
 {"data": {"name": "deer"}, "mark": {"type": "line", "strokeWidth": 3, "strokeJoin": "round"},
  "encoding": {"color": {"datum": "Deer Pt Lake Dam Stage", "type": "nominal",
   "scale": {"domain": ["Deer Pt Lake Dam Stage", "Econfina Creek @CR 388 Stage"], "range": ["#4472C4", "#ED7D31"]},
   "legend": {"orient": "none", "legendX": 191, "legendY": -71, "direction": "horizontal", "title": null, "symbolType": "stroke", "symbolSize": 1936, "symbolStrokeWidth": 3, "labelFontSize": 18, "labelColor": "#595959", "labelFont": "Lato", "labelLimit": 400, "columnPadding": 55, "labelOffset": 5, "padding": 0}}}},
 {"data": {"name": "econ"}, "mark": {"type": "line", "strokeWidth": 3, "strokeJoin": "round"},
  "encoding": {"color": {"datum": "Econfina Creek @CR 388 Stage", "type": "nominal"}}}
]
}
